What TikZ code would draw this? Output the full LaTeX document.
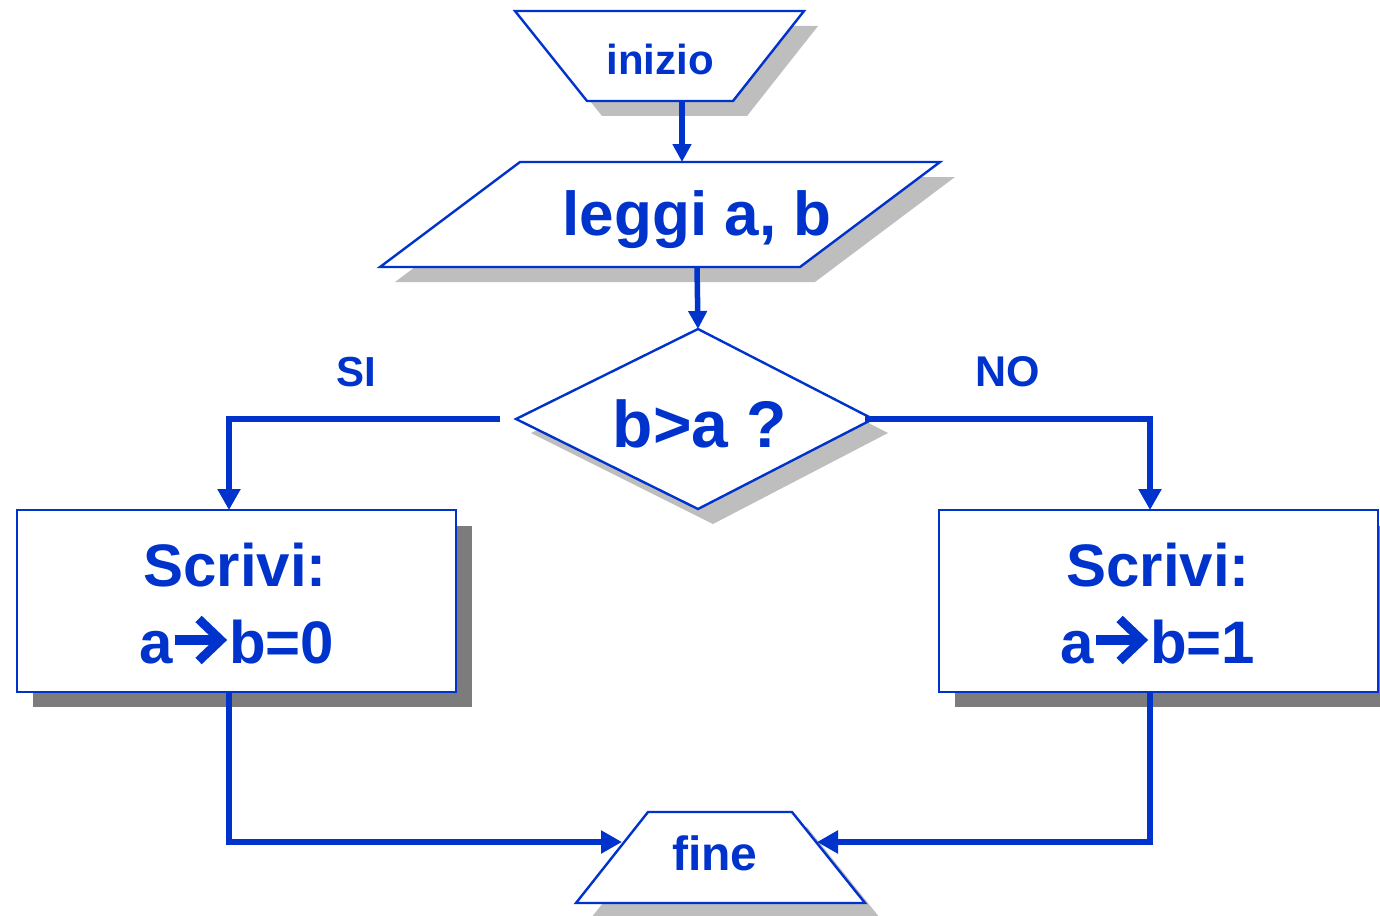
\documentclass[tikz,border=0pt]{standalone}
\usepackage{fontspec}
\setmainfont{Liberation Sans}
\usetikzlibrary{arrows.meta}
\definecolor{flowblue}{HTML}{0033CC}
\definecolor{shadelight}{HTML}{BEBEBE}
\definecolor{shadedark}{HTML}{7C7C7C}
\tikzset{
  outline/.style={draw=flowblue, line width=2.4pt, fill=white, line join=miter},
  softshadow/.style={fill=shadelight, draw=none},
  hardshadow/.style={fill=shadedark, draw=none},
  label/.style={text=flowblue, font=\bfseries, inner sep=0pt, anchor=base},
  bigtext/.style={label, font=\bfseries\fontsize{60}{60}\selectfont},
  glyphbar/.style={draw=flowblue, line width=9.6pt, line cap=butt},
  glyphhead/.style={draw=flowblue, line width=9pt, line join=miter, miter limit=10},
  link/.style={draw=flowblue, line width=5.5pt},
  linkarrow/.style={link, -{Triangle[length=21pt,width=22pt]}},
  shortarrow/.style={link, -{Triangle[length=18pt,width=18pt]}},
}
\begin{document}
\begin{tikzpicture}[x=1pt, y=-1pt]
\useasboundingbox (0,0) rectangle (1380,915);

% start block (inverted trapezium)
\fill[softshadow] (530,26) -- (818,26) -- (747,116) -- (602,116) -- cycle;
\draw[outline] (515,11) -- (804,11) -- (733,101) -- (587,101) -- cycle;
\node[label, font=\bfseries\fontsize{42}{42}\selectfont] (start) at (660,75) {inizio};
\coordinate (start-out) at (682,101);

% input block (parallelogram)
\fill[softshadow] (535,177) -- (955,177) -- (815,282) -- (395,282) -- cycle;
\draw[outline] (520,162) -- (940,162) -- (800,267) -- (380,267) -- cycle;
\node[label, font=\bfseries\fontsize{62}{62}\selectfont] (read) at (697,235) {leggi a, b};
\coordinate (read-in) at (682,162);
\coordinate (read-out) at (697,267);

% decision (diamond)
\fill[softshadow] (713,343) -- (888,433) -- (713,524) -- (531,433) -- cycle;
\draw[outline] (698,329) -- (873,419) -- (698,509) -- (516,419) -- cycle;
\node[label, font=\bfseries\fontsize{66}{66}\selectfont] (test) at (700,447) {b>a ?};
\coordinate (test-in) at (698,329);
\coordinate (test-left) at (500,419);
\coordinate (test-right) at (865,419);

% branch labels
\node[label, font=\bfseries\fontsize{42}{42}\selectfont] (yes) at (356,386) {SI};
\node[label, font=\bfseries\fontsize{43}{43}\selectfont] (no) at (1008,386) {NO};

% output block, true branch
\fill[hardshadow] (33,526) rectangle (472,707);
\draw[outline] (17,510) rectangle (456,692);
\node[bigtext] (outyes-a) at (235,586) {Scrivi:};
\node[bigtext] (outyes-b) at (237,663) {a\hspace{56pt}b=0};
\draw[glyphbar] ([xshift=35pt,yshift=23pt]outyes-b.base west) -- ([xshift=79pt,yshift=23pt]outyes-b.base west);
\draw[glyphhead] ([xshift=59pt,yshift=44pt]outyes-b.base west) -- ([xshift=81pt,yshift=23pt]outyes-b.base west) -- ([xshift=59pt,yshift=2pt]outyes-b.base west);
\coordinate (outyes-in) at (229,510);
\coordinate (outyes-out) at (229,692);

% output block, false branch
\fill[hardshadow] (955,526) rectangle (1380,707);
\draw[outline] (939,510) rectangle (1378,692);
\node[bigtext] (outno-a) at (1158,586) {Scrivi:};
\node[bigtext] (outno-b) at (1158,663) {a\hspace{56pt}b=1};
\draw[glyphbar] ([xshift=35pt,yshift=23pt]outno-b.base west) -- ([xshift=79pt,yshift=23pt]outno-b.base west);
\draw[glyphhead] ([xshift=59pt,yshift=44pt]outno-b.base west) -- ([xshift=81pt,yshift=23pt]outno-b.base west) -- ([xshift=59pt,yshift=2pt]outno-b.base west);
\coordinate (outno-in) at (1150,510);
\coordinate (outno-out) at (1150,692);

% end block (trapezium)
\fill[softshadow] (663,827) -- (807,827) -- (880,918) -- (591,918) -- cycle;
\draw[outline] (648,812) -- (792,812) -- (865,903) -- (576,903) -- cycle;
\node[label, font=\bfseries\fontsize{48}{48}\selectfont] (stop) at (715,870) {fine};
\coordinate (stop-left) at (622,842);
\coordinate (stop-right) at (817,842);

% connectors
\draw[shortarrow] (start-out) -- (read-in);
\draw[shortarrow] (read-out) -- (test-in);
\draw[linkarrow] (test-left) -| (outyes-in);
\draw[linkarrow] (test-right) -| (outno-in);
\draw[linkarrow] (outyes-out) |- (stop-left);
\draw[linkarrow] (outno-out) |- (stop-right);
\end{tikzpicture}
\end{document}
